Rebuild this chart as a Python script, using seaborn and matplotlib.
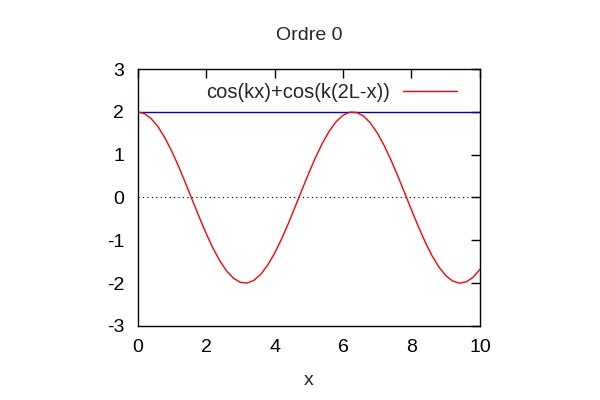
import matplotlib
matplotlib.use("Agg")
import matplotlib.pyplot as plt
import seaborn as sns
import pandas as pd

x_vals = [0.0, 0.2, 0.4, 0.6, 0.8, 1.0, 1.2, 1.4, 1.6, 1.8, 2.0, 2.2, 2.4, 2.6, 2.8,
          3.0, 3.2, 3.4, 3.6, 3.8, 4.0, 4.2, 4.4, 4.6, 4.8, 5.0, 5.2, 5.4, 5.6, 5.8,
          6.0, 6.2, 6.4, 6.6, 6.8, 7.0, 7.2, 7.4, 7.6, 7.8, 8.0, 8.2, 8.4, 8.6, 8.8,
          9.0, 9.2, 9.4, 9.6, 9.8, 10.0]
y_red = [2.000, 1.960, 1.842, 1.651, 1.393, 1.081, 0.725, 0.340, -0.058, -0.454,
         -0.832, -1.177, -1.475, -1.714, -1.884, -1.980, -1.997, -1.934, -1.793, -1.580,
         -1.307, -0.980, -0.614, -0.224, 0.175, 0.567, 0.937, 1.270, 1.551, 1.770,
         1.920, 1.993, 1.986, 1.900, 1.739, 1.508, 1.217, 0.877, 0.503, 0.108,
         -0.291, -0.678, -1.039, -1.360, -1.623, -1.822, -1.950, -2.000, -1.969, -1.861,
         -1.678]
x_blue = [0.0, 10.0]
y_blue = [2.0, 2.0]
x_ticks = [0, 2, 4, 6, 8, 10]
y_ticks = [-3, -2, -1, 0, 1, 2, 3]
title = "Ordre 0"
xlabel = "x"
legend_label = "cos(kx)+cos(k(2L-x))"

sns.set_style("white")
plt.rcParams['font.family'] = ['Liberation Sans', 'DejaVu Sans']

fig = plt.figure(figsize=(6, 4), dpi=100)
ax = fig.add_axes([137.5 / 600, 1 - 326 / 400, 342.5 / 600, 257 / 400])

ax.axhline(0, color="black", lw=0.8, ls=(0, (1, 3)), zorder=1)
df_red = pd.DataFrame({"x": x_vals, "y": y_red})
df_blue = pd.DataFrame({"x": x_blue, "y": y_blue})
sns.lineplot(data=df_red, x="x", y="y", ax=ax, color="#ff0000", lw=1,
             sort=False, estimator=None, label=legend_label, zorder=3)
sns.lineplot(data=df_blue, x="x", y="y", ax=ax, color="#0000c8", lw=1,
             sort=False, estimator=None, zorder=2)

ax.set_xlim(0, 10)
ax.set_ylim(-3, 3)
ax.set_xticks(x_ticks)
ax.set_yticks(y_ticks)
ax.set_xticklabels([str(t) for t in x_ticks])
ax.set_yticklabels([str(t) for t in y_ticks])
ax.tick_params(direction="in", length=6.5, width=1, top=True, right=True,
               labelsize=14, colors="black")
ax.tick_params(axis="x", pad=9)
ax.tick_params(axis="y", pad=9.5)
for s in ax.spines.values():
    s.set_visible(True)
    s.set_color("black")
    s.set_linewidth(1)

ax.set_xlabel(xlabel, fontsize=14, labelpad=12)
ax.set_ylabel("")
ax.set_title(title, fontsize=14, pad=21)

leg = ax.legend(loc="upper right", frameon=False, markerfirst=False,
                fontsize=14.5, handlelength=2.68, borderaxespad=0.0,
                bbox_to_anchor=(0.955, 0.975), handletextpad=0.6)

fig.savefig("out.png", dpi=100, facecolor="white")
